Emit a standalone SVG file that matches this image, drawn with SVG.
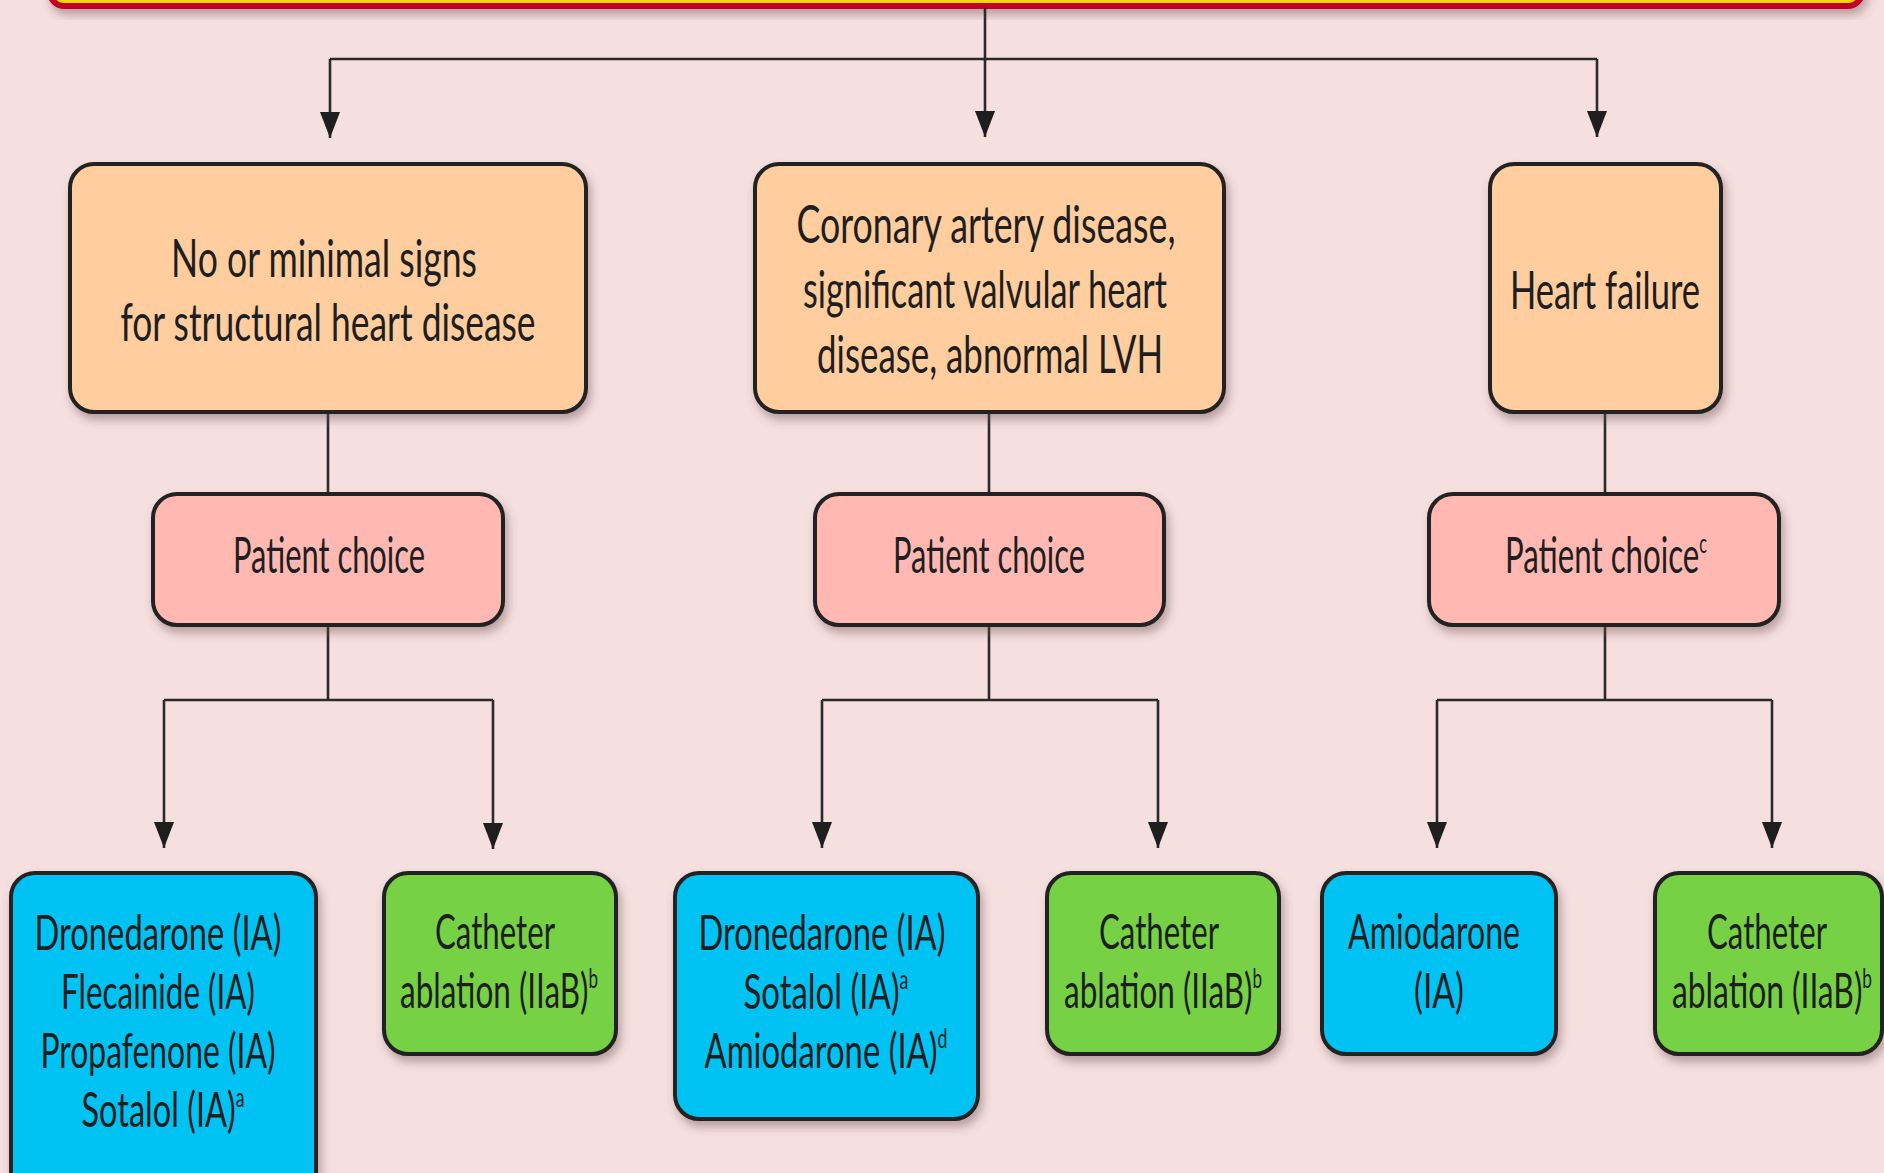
<svg xmlns="http://www.w3.org/2000/svg" width="1884" height="1173" viewBox="0 0 1884 1173">
<defs>
<style>
.bg{fill:#F5DFDF}
.box{stroke:#222;stroke-width:4;filter:url(#sh)}
.cond{fill:#FFCD9E}
.pc{fill:#FFB8B2}
.drug{fill:#00C3F3}
.abl{fill:#76D144}
.t{font-family:Lato,"Liberation Sans",sans-serif;fill:#1e1e1e;text-anchor:middle}
.t1{font-size:52px}
.t2{font-size:50px}
.t3{font-size:48px}
.sup{font-size:26px}
.ln{fill:none;stroke:#2a2a2a;stroke-width:2.6}
.arr{marker-end:url(#ah)}
</style>
<filter id="sh" x="-10%" y="-10%" width="125%" height="130%">
<feDropShadow dx="3" dy="6" stdDeviation="5" flood-color="#6e4f4f" flood-opacity="0.45"/>
</filter>
<marker id="ah" markerUnits="userSpaceOnUse" markerWidth="28" markerHeight="22" viewBox="0 0 28 22" refX="27" refY="11" orient="auto">
<path d="M1,1 L27,11 L1,21 Z" fill="#1e1e1e"/>
</marker>
</defs>
<rect class="bg" x="0" y="0" width="1884" height="1173"/>

<g id="banner">
<rect x="50" y="-60" width="1812" height="66" rx="14" fill="#F6D60A" stroke="#C20028" stroke-width="6" filter="url(#sh)"/>
</g>

<g id="connectors">
<path class="ln" d="M985,8 V61"/>
<path class="ln" d="M330,59 H1597"/>
<path class="ln arr" d="M985,59 V137"/>
<path class="ln arr" d="M330,59 V138"/>
<path class="ln arr" d="M1597,59 V137"/>
<path class="ln" d="M328,412 V493"/>
<path class="ln" d="M989,412 V493"/>
<path class="ln" d="M1605,412 V493"/>
<path class="ln" d="M328,626 V700"/>
<path class="ln" d="M164,700 H493"/>
<path class="ln arr" d="M164,700 V848"/>
<path class="ln arr" d="M493,700 V849"/>
<path class="ln" d="M989,626 V700"/>
<path class="ln" d="M822,700 H1158"/>
<path class="ln arr" d="M822,700 V848"/>
<path class="ln arr" d="M1158,700 V848"/>
<path class="ln" d="M1605,626 V700"/>
<path class="ln" d="M1437,700 H1772"/>
<path class="ln arr" d="M1437,700 V848"/>
<path class="ln arr" d="M1772,700 V848"/>
</g>

<g id="no-shd">
<rect class="box cond" x="70" y="164" width="516" height="248" rx="24"/>
<text class="t t1" x="324" y="277" textLength="306" lengthAdjust="spacingAndGlyphs">No or minimal signs</text>
<text class="t t1" x="328" y="341" textLength="415" lengthAdjust="spacingAndGlyphs">for structural heart disease</text>
</g>
<g id="cad">
<rect class="box cond" x="755" y="164" width="469" height="248" rx="24"/>
<text class="t t1" x="986" y="243" textLength="379" lengthAdjust="spacingAndGlyphs">Coronary artery disease,</text>
<text class="t t1" x="985" y="308" textLength="364" lengthAdjust="spacingAndGlyphs">significant valvular heart</text>
<text class="t t1" x="990" y="373" textLength="346" lengthAdjust="spacingAndGlyphs">disease, abnormal LVH</text>
</g>
<g id="hf">
<rect class="box cond" x="1490" y="164" width="231" height="248" rx="24"/>
<text class="t t1" x="1605" y="309" textLength="190" lengthAdjust="spacingAndGlyphs">Heart failure</text>
</g>

<g id="pc1">
<rect class="box pc" x="153" y="494" width="350" height="131" rx="24"/>
<text class="t t2" x="329" y="573" textLength="192" lengthAdjust="spacingAndGlyphs">Patient choice</text>
</g>
<g id="pc2">
<rect class="box pc" x="815" y="494" width="349" height="131" rx="24"/>
<text class="t t2" x="989" y="573" textLength="192" lengthAdjust="spacingAndGlyphs">Patient choice</text>
</g>
<g id="pc3">
<rect class="box pc" x="1429" y="494" width="350" height="131" rx="24"/>
<text class="t t2" x="1606" y="573" textLength="202" lengthAdjust="spacingAndGlyphs">Patient choice<tspan class="sup" dy="-20">c</tspan></text>
</g>

<g id="drug1">
<rect class="box drug" x="11" y="873" width="305" height="330" rx="24"/>
<text class="t t3" x="158" y="950" textLength="247" lengthAdjust="spacingAndGlyphs">Dronedarone (IA)</text>
<text class="t t3" x="158" y="1009" textLength="194" lengthAdjust="spacingAndGlyphs">Flecainide (IA)</text>
<text class="t t3" x="158" y="1068" textLength="235" lengthAdjust="spacingAndGlyphs">Propafenone (IA)</text>
<text class="t t3" x="163" y="1127" textLength="163" lengthAdjust="spacingAndGlyphs">Sotalol (IA)<tspan class="sup" dy="-20">a</tspan></text>
</g>
<g id="abl1">
<rect class="box abl" x="384" y="873" width="232" height="181" rx="24"/>
<text class="t t3" x="495" y="949" textLength="120" lengthAdjust="spacingAndGlyphs">Catheter</text>
<text class="t t3" x="499" y="1008" textLength="198" lengthAdjust="spacingAndGlyphs">ablation (IIaB)<tspan class="sup" dy="-20">b</tspan></text>
</g>
<g id="drug2">
<rect class="box drug" x="675" y="873" width="303" height="246" rx="24"/>
<text class="t t3" x="822" y="950" textLength="247" lengthAdjust="spacingAndGlyphs">Dronedarone (IA)</text>
<text class="t t3" x="826" y="1009" textLength="165" lengthAdjust="spacingAndGlyphs">Sotalol (IA)<tspan class="sup" dy="-20">a</tspan></text>
<text class="t t3" x="826" y="1068" textLength="243" lengthAdjust="spacingAndGlyphs">Amiodarone (IA)<tspan class="sup" dy="-20">d</tspan></text>
</g>
<g id="abl2">
<rect class="box abl" x="1047" y="873" width="232" height="181" rx="24"/>
<text class="t t3" x="1159" y="949" textLength="120" lengthAdjust="spacingAndGlyphs">Catheter</text>
<text class="t t3" x="1163" y="1008" textLength="198" lengthAdjust="spacingAndGlyphs">ablation (IIaB)<tspan class="sup" dy="-20">b</tspan></text>
</g>
<g id="drug3">
<rect class="box drug" x="1322" y="873" width="234" height="181" rx="24"/>
<text class="t t3" x="1434" y="949" textLength="172" lengthAdjust="spacingAndGlyphs">Amiodarone</text>
<text class="t t3" x="1439" y="1008" textLength="50" lengthAdjust="spacingAndGlyphs">(IA)</text>
</g>
<g id="abl3">
<rect class="box abl" x="1655" y="873" width="227" height="181" rx="24"/>
<text class="t t3" x="1767" y="949" textLength="120" lengthAdjust="spacingAndGlyphs">Catheter</text>
<text class="t t3" x="1772" y="1008" textLength="200" lengthAdjust="spacingAndGlyphs">ablation (IIaB)<tspan class="sup" dy="-20">b</tspan></text>
</g>
</svg>
